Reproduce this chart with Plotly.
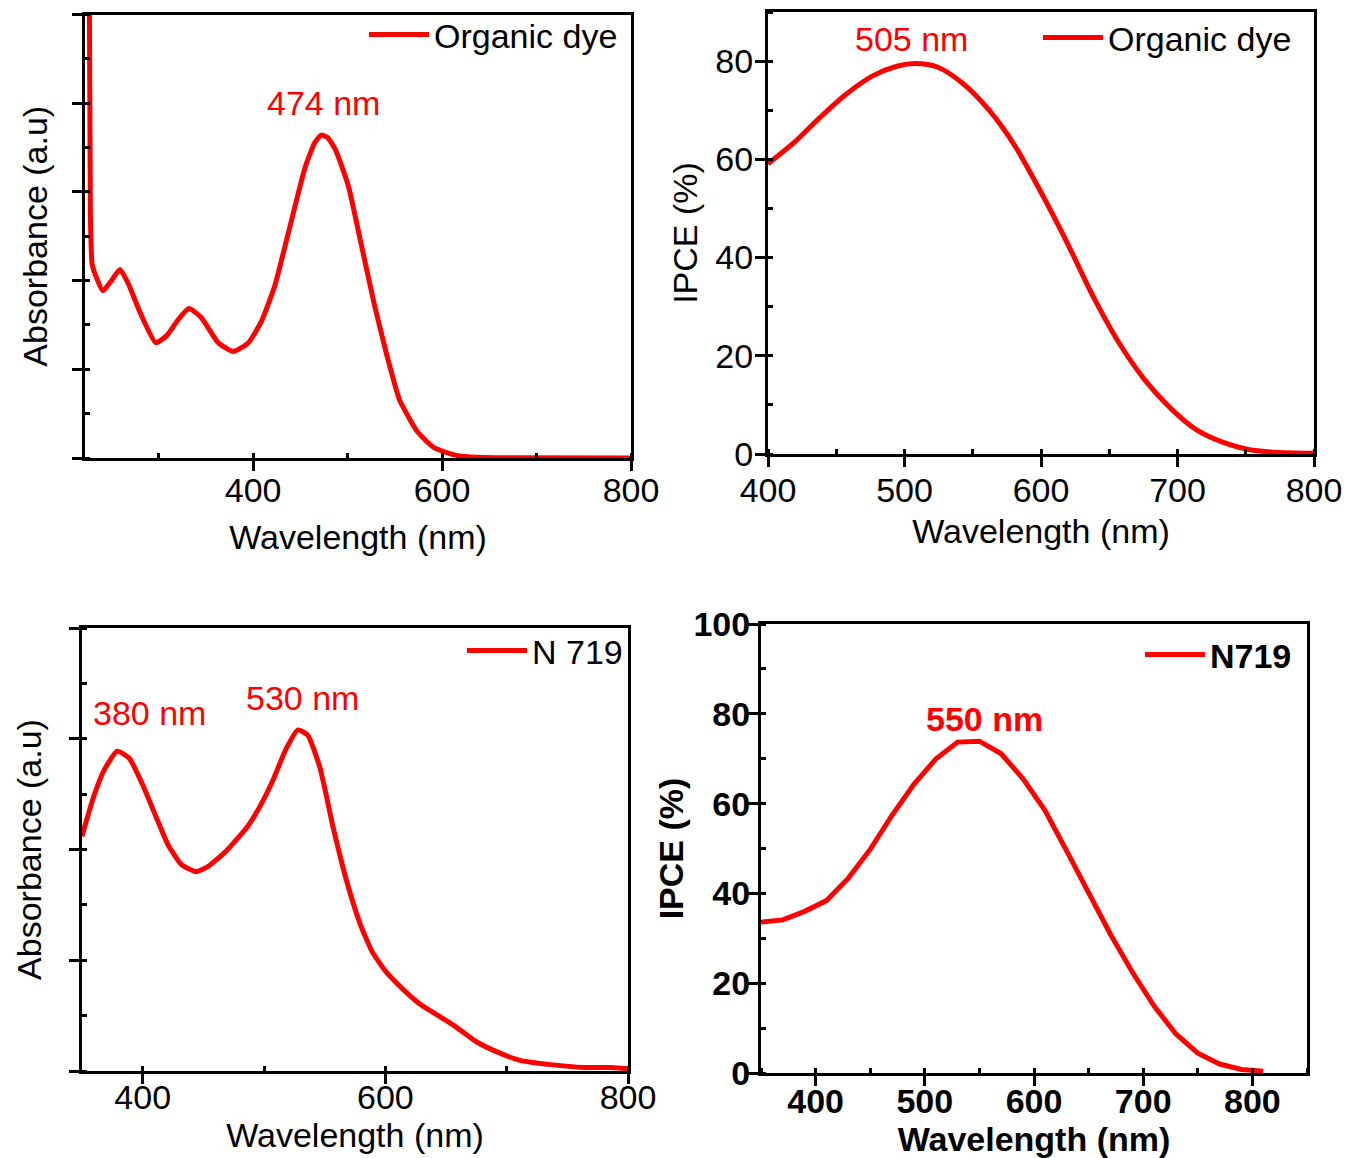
import plotly.graph_objects as go

W, H = 1349, 1158

# ---------------- data ----------------
# Panel 1: organic dye absorbance
abs_dye_x = [226, 227.7, 229.5, 233, 241, 249, 259, 267, 281, 297, 308.6, 320, 332, 345, 363,
             379, 395, 409, 423, 436.6, 455, 465, 472, 479, 487, 500.6, 514, 528, 542, 555,
             574, 592, 615, 638, 680, 800]
abs_dye_y = [1.30, 0.55, 0.4375, 0.413, 0.377, 0.397, 0.425, 0.397, 0.325, 0.26, 0.276, 0.31, 0.337,
             0.317, 0.26, 0.24, 0.26, 0.309, 0.389, 0.502, 0.655, 0.71, 0.728, 0.722, 0.696, 0.615,
             0.486, 0.349, 0.228, 0.131, 0.059, 0.0226, 0.006, 0.0016, 0.0003, 0.0]

# Panel 2: organic dye IPCE
ipce_dye_x = [400, 419, 438, 457, 476, 495, 508, 524, 543, 562, 581, 600, 619, 638, 657, 676,
              695, 714, 733, 752, 771, 800]
ipce_dye_y = [59.1, 63.4, 68.5, 73.2, 76.9, 79.0, 79.5, 78.8, 75.4, 70.0, 62.7, 53.3, 43.1, 32.2,
              22.7, 15.1, 9.3, 4.9, 2.4, 0.9, 0.36, 0.15]

# Panel 3: N719 absorbance
abs_n719_x = [350, 359, 368, 379, 389, 400, 411, 421, 432, 444, 454, 468, 486, 496, 507, 518,
              528, 536, 546, 557, 568, 579, 589, 600, 614, 629, 643, 657, 675, 693, 711, 736,
              764, 786, 800]
abs_n719_y = [0.530, 0.614, 0.678, 0.722, 0.706, 0.646, 0.574, 0.510, 0.466, 0.450, 0.462, 0.494,
              0.550, 0.594, 0.654, 0.726, 0.770, 0.758, 0.686, 0.550, 0.430, 0.334, 0.270, 0.226,
              0.186, 0.150, 0.126, 0.102, 0.066, 0.042, 0.024, 0.0144, 0.008, 0.008, 0.005]

# Panel 4: N719 IPCE
ipce_n719_x = [350, 370, 390, 410, 430, 450, 470, 490, 510, 530, 550, 570, 590, 610, 630, 650,
               670, 690, 710, 730, 750, 770, 790, 810]
ipce_n719_y = [33.6, 34.1, 36.0, 38.4, 43.4, 49.8, 57.4, 64.3, 69.9, 73.7, 73.9, 71.1, 65.5, 58.5,
               49.4, 40.2, 30.9, 22.5, 14.9, 8.7, 4.4, 2.0, 0.8, 0.4]

peak_labels = ["474 nm", "505 nm", "380 nm", "530 nm", "550 nm"]
series_names = ["Organic dye", "Organic dye", "N 719", "N719"]

RED = "#ff0000"
FONT = "Liberation Sans, Arial, sans-serif"
FS = 34

# panel pixel boxes: left, right, top, bottom
boxes = {
    1: (85, 631, 14.5, 458),
    2: (768, 1314, 12, 454),
    3: (82, 628, 628, 1071),
    4: (761, 1307, 624, 1073),
}


def xdom(b):
    return [b[0] / W, b[1] / W]


def ydom(b):
    return [1 - b[3] / H, 1 - b[2] / H]


fig = go.Figure()

fig.add_trace(go.Scatter(x=abs_dye_x, y=abs_dye_y, mode="lines", line=dict(color=RED, width=5, shape="spline", smoothing=0.5),
                         name=series_names[0], xaxis="x", yaxis="y", legend="legend"))
fig.add_trace(go.Scatter(x=ipce_dye_x, y=ipce_dye_y, mode="lines", line=dict(color=RED, width=5, shape="spline", smoothing=0.8),
                         name=series_names[1], xaxis="x2", yaxis="y2", legend="legend2"))
fig.add_trace(go.Scatter(x=abs_n719_x, y=abs_n719_y, mode="lines", line=dict(color=RED, width=5, shape="spline", smoothing=0.5),
                         name=series_names[2], xaxis="x3", yaxis="y3", legend="legend3"))
fig.add_trace(go.Scatter(x=ipce_n719_x, y=ipce_n719_y, mode="lines", line=dict(color=RED, width=5),
                         name=series_names[3], xaxis="x4", yaxis="y4", legend="legend4"))


def axis_common(bold=False, lab_off=-10):
    return dict(
        showline=True, linecolor="black", linewidth=3, mirror=True,
        ticks="outside", ticklen=10, tickwidth=3, tickcolor="black",
        showgrid=False, zeroline=False, automargin=False,
        ticklabelstandoff=lab_off,
        tickfont=dict(family=FONT, size=FS, color="black", weight="bold" if bold else "normal"),
    )


def title(text, bold=False, standoff=10):
    return dict(text=text, font=dict(family=FONT, size=FS, color="black", weight="bold" if bold else "normal"),
                standoff=standoff)


minor_in = dict(ticks="inside", ticklen=5, tickwidth=3, tickcolor="black")

layout = dict(
    width=W, height=H, margin=dict(l=0, r=0, t=0, b=0, autoexpand=False),
    paper_bgcolor="white", plot_bgcolor="white",
    font=dict(family=FONT, size=FS, color="black"),
)

# Panel 1
b = boxes[1]
layout["xaxis"] = dict(axis_common(lab_off=-10), domain=xdom(b), anchor="y", range=[222, 800],
                       tickmode="linear", tick0=0, dtick=200, minor=dict(minor_in, dtick=100),
                       title=title("Wavelength (nm)", standoff=18))
layout["yaxis"] = dict(axis_common(), domain=ydom(b), anchor="x", range=[0, 1],
                       tickmode="linear", tick0=0, dtick=0.2, showticklabels=False,
                       minor=dict(minor_in, dtick=0.1),
                       title=title("Absorbance (a.u)", standoff=15))
# Panel 2
b = boxes[2]
layout["xaxis2"] = dict(axis_common(lab_off=-6), domain=xdom(b), anchor="y2", range=[400, 800],
                        tickmode="linear", tick0=0, dtick=100, minor=dict(minor_in, dtick=50),
                        title=title("Wavelength (nm)", standoff=12))
layout["yaxis2"] = dict(axis_common(lab_off=-5), domain=ydom(b), anchor="x2", range=[0, 90],
                        tickmode="linear", tick0=0, dtick=20, minor=dict(minor_in, dtick=10),
                        title=title("IPCE (%)", standoff=8))
# Panel 3
b = boxes[3]
layout["xaxis3"] = dict(axis_common(lab_off=-16), domain=xdom(b), anchor="y3", range=[350, 800],
                        tickmode="linear", tick0=0, dtick=200, minor=dict(minor_in, dtick=100),
                        title=title("Wavelength (nm)", standoff=0))
layout["yaxis3"] = dict(axis_common(), domain=ydom(b), anchor="x3", range=[0, 1],
                        tickmode="linear", tick0=0, dtick=0.25, showticklabels=False,
                        minor=dict(minor_in, dtick=0.125),
                        title=title("Absorbance (a.u)", standoff=18))
# Panel 4
b = boxes[4]
layout["xaxis4"] = dict(axis_common(True, lab_off=-14), domain=xdom(b), anchor="y4", range=[350, 850],
                        tickmode="linear", tick0=0, dtick=100, minor=dict(minor_in, dtick=50),
                        title=title("Wavelength (nm)", True, standoff=16))
layout["yaxis4"] = dict(axis_common(True, lab_off=-9), domain=ydom(b), anchor="x4", range=[0, 100],
                        tickmode="linear", tick0=0, dtick=20, minor=dict(minor_in, dtick=10),
                        title=title("IPCE (%)", True, standoff=0))


def legend_at(xr_px, ytop_px, bold=False):
    return dict(x=xr_px / W, y=1 - ytop_px / H, xanchor="right", yanchor="top",
                bgcolor="rgba(0,0,0,0)", borderwidth=0,
                font=dict(family=FONT, size=FS, color="black", weight="bold" if bold else "normal"),
                itemwidth=60, tracegroupgap=0)


layout["legend"] = legend_at(623, 6)
layout["legend2"] = legend_at(1297, 9)
layout["legend3"] = legend_at(628, 622)
layout["legend4"] = legend_at(1297, 626, bold=True)

ann_font = dict(family=FONT, size=FS, color=RED)
annotations = [
    dict(x=474, y=0.80, xref="x", yref="y", text=peak_labels[0], showarrow=False, font=ann_font),
    dict(x=505, y=84.5, xref="x2", yref="y2", text=peak_labels[1], showarrow=False, font=ann_font),
    dict(x=406, y=0.808, xref="x3", yref="y3", text=peak_labels[2], showarrow=False, font=ann_font),
    dict(x=532, y=0.842, xref="x3", yref="y3", text=peak_labels[3], showarrow=False, font=ann_font),
    dict(x=555, y=78.8, xref="x4", yref="y4", text=peak_labels[4], showarrow=False,
         font=dict(ann_font, weight="bold")),
]
layout["annotations"] = annotations
layout["showlegend"] = True

fig.update_layout(**layout)
fig.write_html("out.html")
